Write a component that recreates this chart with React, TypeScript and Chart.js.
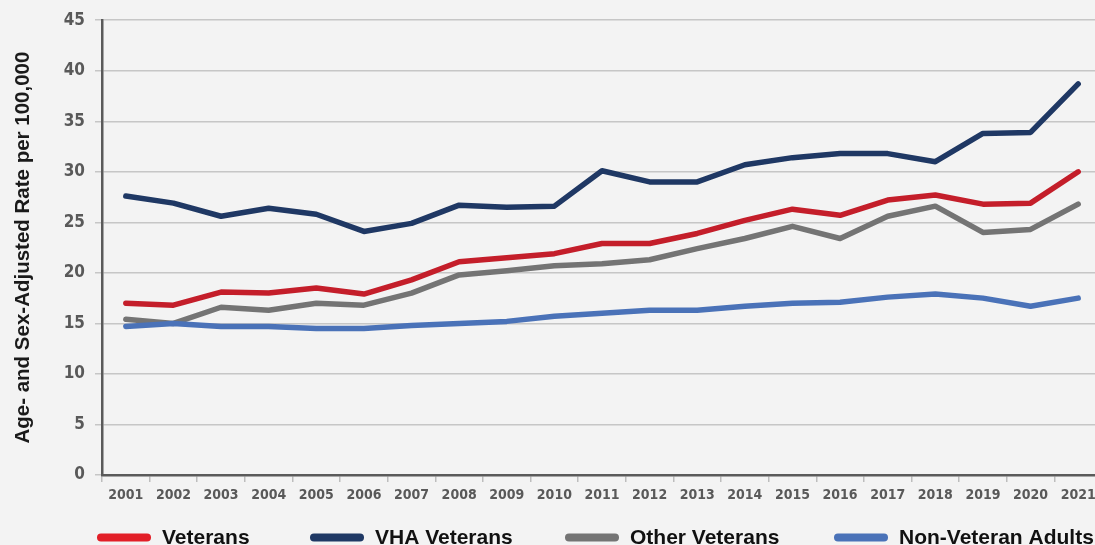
import React, { useEffect, useRef } from "react";
import { Chart, registerables } from "chart.js";

Chart.register(...registerables);

const years = ["2001","2002","2003","2004","2005","2006","2007","2008","2009","2010","2011","2012","2013","2014","2015","2016","2017","2018","2019","2020","2021"];
const veterans = [17.0, 16.8, 18.1, 18.0, 18.5, 17.9, 19.3, 21.1, 21.5, 21.9, 22.9, 22.9, 23.9, 25.2, 26.3, 25.7, 27.2, 27.7, 26.8, 26.9, 30.0];
const vhaVeterans = [27.6, 26.9, 25.6, 26.4, 25.8, 24.1, 24.9, 26.7, 26.5, 26.6, 30.1, 29.0, 29.0, 30.7, 31.4, 31.8, 31.8, 31.0, 33.8, 33.9, 38.7];
const otherVeterans = [15.4, 15.0, 16.6, 16.3, 17.0, 16.8, 18.0, 19.8, 20.2, 20.7, 20.9, 21.3, 22.4, 23.4, 24.6, 23.4, 25.6, 26.6, 24.0, 24.3, 26.8];
const nonVeteranAdults = [14.7, 15.0, 14.7, 14.7, 14.5, 14.5, 14.8, 15.0, 15.2, 15.7, 16.0, 16.3, 16.3, 16.7, 17.0, 17.1, 17.6, 17.9, 17.5, 16.7, 17.5];
const seriesLabels = ["Veterans", "VHA Veterans", "Other Veterans", "Non-Veteran Adults"];
const yTicks = [0, 5, 10, 15, 20, 25, 30, 35, 40, 45];

const COLORS = ["#c41e2a", "#1f3864", "#747474", "#4a72b8"];
const LEGEND_COLORS = ["#e21e27", "#1f3864", "#747474", "#4a72b8"];
const COND = '"DejaVu Sans Condensed", "Liberation Sans Narrow", "Liberation Sans", Arial, sans-serif';
const SANS = '"Liberation Sans", Arial, sans-serif';
const LEGEND_X = [97, 310, 565, 834];

const bottomLegend = {
  id: "bottomLegend",
  afterDraw(chart: any) {
    const ctx = chart.ctx;
    ctx.save();
    const y = 537.5;
    ctx.font = `bold 21px ${SANS}`;
    ctx.textBaseline = "alphabetic";
    ctx.textAlign = "left";
    chart.data.datasets.forEach((ds: any, i: number) => {
      const x = LEGEND_X[i];
      ctx.strokeStyle = LEGEND_COLORS[i];
      ctx.lineWidth = 8;
      ctx.lineCap = "round";
      ctx.beginPath();
      ctx.moveTo(x + 4, y);
      ctx.lineTo(x + 50, y);
      ctx.stroke();
      ctx.fillStyle = "#111111";
      ctx.fillText(ds.label, x + 65, 544);
    });
    ctx.restore();
  },
};

export default function App() {
  const ref = useRef<HTMLCanvasElement | null>(null);
  useEffect(() => {
    if (!ref.current) return;
    const mk = (i: number, data: number[], order: number) => ({
      label: seriesLabels[i],
      data,
      borderColor: COLORS[i],
      backgroundColor: COLORS[i],
      borderWidth: 5.5,
      borderCapStyle: "round" as const,
      borderJoinStyle: "round" as const,
      pointRadius: 0,
      tension: 0,
      order,
    });
    const chart = new Chart(ref.current, {
      type: "line",
      data: {
        labels: years,
        datasets: [
          mk(0, veterans, 1),
          mk(1, vhaVeterans, 2),
          mk(2, otherVeterans, 3),
          mk(3, nonVeteranAdults, 0),
        ],
      },
      options: {
        responsive: false,
        animation: false,
        devicePixelRatio: 1,
        layout: { padding: { top: 19.5, bottom: 20, left: 0, right: 0 } },
        plugins: { legend: { display: false }, tooltip: { enabled: false } },
        scales: {
          x: {
            offset: true,
            grid: {
              offset: true,
              drawOnChartArea: false,
              drawTicks: true,
              tickLength: 7,
              tickColor: "#bdbdbd",
              lineWidth: 1.5,
            },
            border: { display: true, color: "#5a5a5a", width: 2.5 },
            ticks: {
              color: "#595959",
              font: { family: COND, size: 14, weight: "bold" },
              padding: 5,
              maxRotation: 0,
              autoSkip: false,
            },
            afterFit: (s: any) => { s.height = 50; },
          },
          y: {
            min: 0,
            max: 45,
            afterBuildTicks: (s: any) => { s.ticks = yTicks.map((v) => ({ value: v })); },
            grid: {
              color: "#c6c6c6",
              lineWidth: 1.5,
              tickLength: 7,
              tickColor: "#c6c6c6",
            },
            border: { display: true, color: "#5a5a5a", width: 2.5 },
            ticks: {
              color: "#595959",
              font: { family: COND, size: 17, weight: "bold" },
              padding: 10,
            },
            title: {
              display: true,
              text: "Age- and Sex-Adjusted Rate per 100,000",
              color: "#1a1a1a",
              font: { family: SANS, size: 20.5, weight: "bold" },
              padding: { top: 11, bottom: 0 },
            },
            afterFit: (s: any) => { s.width = 102; },
          },
        },
      },
      plugins: [bottomLegend],
    });
    return () => chart.destroy();
  }, []);
  return (
    <div style={{ position: "fixed", left: 0, top: 0, width: 1095, height: 545, overflow: "hidden", background: "#f3f3f3" }}>
      <canvas ref={ref} width={1102} height={545} style={{ display: "block" }} />
    </div>
  );
}
